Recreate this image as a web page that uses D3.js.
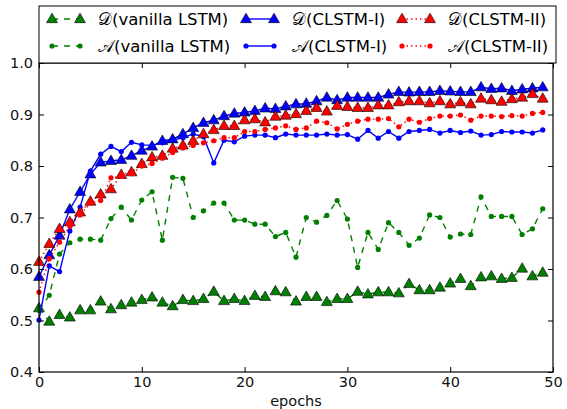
<!DOCTYPE html>
<html>
<head>
<meta charset="utf-8">
<title>LSTM curves</title>
<style>
  body { margin: 0; background: #fff; }
  text { font-family: "DejaVu Sans", sans-serif; }
</style>
</head>
<body>
<script src="https://cdn.jsdelivr.net/npm/d3@7"></script>
<script>
// values, index = epoch
var dVanilla = [0.524,0.498,0.511,0.506,0.520,0.520,0.537,0.522,0.530,0.535,
  0.540,0.545,0.535,0.528,0.540,0.538,0.542,0.556,0.538,0.542,
  0.538,0.548,0.546,0.557,0.555,0.537,0.546,0.546,0.536,0.542,
  0.542,0.556,0.551,0.555,0.555,0.553,0.571,0.559,0.559,0.564,
  0.572,0.581,0.567,0.584,0.586,0.581,0.583,0.601,0.586,0.593];
var aVanilla = [0.520,0.549,0.629,0.651,0.658,0.658,0.656,0.698,0.720,0.695,
  0.734,0.750,0.656,0.778,0.776,0.700,0.713,0.728,0.728,0.695,
  0.695,0.687,0.687,0.663,0.671,0.623,0.700,0.691,0.704,0.733,
  0.697,0.603,0.671,0.638,0.690,0.671,0.646,0.660,0.705,0.700,
  0.662,0.668,0.667,0.740,0.702,0.702,0.702,0.667,0.678,0.717];
var dClstm1 = [0.585,0.627,0.665,0.716,0.750,0.784,0.807,0.810,0.812,0.820,
  0.830,0.838,0.849,0.852,0.862,0.874,0.884,0.889,0.897,0.902,
  0.904,0.907,0.912,0.911,0.916,0.920,0.921,0.926,0.933,0.928,
  0.933,0.933,0.933,0.933,0.939,0.944,0.943,0.944,0.944,0.946,
  0.945,0.944,0.944,0.953,0.950,0.951,0.946,0.949,0.951,0.953];
var aClstm1 = [0.501,0.606,0.595,0.674,0.720,0.790,0.823,0.838,0.828,0.846,
  0.841,0.840,0.845,0.850,0.855,0.862,0.857,0.806,0.850,0.847,
  0.858,0.860,0.860,0.855,0.862,0.860,0.860,0.860,0.862,0.860,
  0.861,0.852,0.869,0.854,0.867,0.854,0.867,0.869,0.871,0.864,
  0.869,0.865,0.868,0.860,0.861,0.867,0.866,0.866,0.864,0.870];
var dClstm2 = [0.614,0.649,0.678,0.691,0.710,0.731,0.745,0.755,0.783,0.788,
  0.804,0.817,0.820,0.834,0.840,0.849,0.862,0.870,0.878,0.878,
  0.889,0.891,0.885,0.896,0.898,0.901,0.907,0.913,0.906,0.917,
  0.915,0.913,0.913,0.918,0.918,0.924,0.926,0.926,0.922,0.926,
  0.920,0.924,0.920,0.931,0.928,0.925,0.930,0.933,0.940,0.931];
var aClstm2 = [0.555,0.620,0.652,0.683,0.705,0.728,0.733,0.777,0.780,0.785,
  0.800,0.805,0.815,0.826,0.835,0.840,0.845,0.849,0.855,0.855,
  0.867,0.867,0.871,0.874,0.878,0.871,0.874,0.887,0.884,0.872,
  0.881,0.887,0.891,0.891,0.892,0.876,0.891,0.885,0.892,0.897,
  0.897,0.899,0.889,0.897,0.897,0.896,0.898,0.897,0.902,0.904];

var xTicks = [0, 10, 20, 30, 40, 50];
var yTicks = [0.4, 0.5, 0.6, 0.7, 0.8, 0.9, 1.0];

var series = [
  {name: "\u{1D49F}(vanilla LSTM)", values: dVanilla, color: "#007f00", dash: "6,6", marker: "tri"},
  {name: "\u{1D49C}(vanilla LSTM)", values: aVanilla, color: "#007f00", dash: "6,6", marker: "dot"},
  {name: "\u{1D49F}(CLSTM-I)", values: dClstm1, color: "#0000ff", dash: null, marker: "tri"},
  {name: "\u{1D49C}(CLSTM-I)", values: aClstm1, color: "#0000ff", dash: null, marker: "dot"},
  {name: "\u{1D49F}(CLSTM-II)", values: dClstm2, color: "#ff0000", dash: "1.5,3", marker: "tri"},
  {name: "\u{1D49C}(CLSTM-II)", values: aClstm2, color: "#ff0000", dash: "1.5,3", marker: "dot"}
];

var w = 567, h = 409;
var pLeft = 39, pRight = 553, pTop = 63, pBottom = 372;

var svg = d3.select("body").append("svg")
    .attr("width", w)
    .attr("height", h);

var x = d3.scaleLinear().domain([0, 50]).range([pLeft, pRight]);
var y = d3.scaleLinear().domain([0.4, 1.0]).range([pBottom, pTop]);

var line = d3.line()
    .x(function(d, i) { return x(i); })
    .y(function(d) { return y(d); });

var tri = d3.symbol().type(d3.symbolTriangle).size(52);

function drawMarker(g, s, px, py) {
  if (s.marker == "tri") {
    g.append("path")
      .attr("d", tri)
      .attr("transform", "translate(" + px + "," + (py + 0.5) + ")")
      .attr("fill", s.color)
      .attr("stroke", "#000")
      .attr("stroke-width", 0.6);
  } else {
    g.append("circle")
      .attr("cx", px).attr("cy", py).attr("r", 2.6)
      .attr("fill", s.color);
  }
}

// curves
series.forEach(function(s) {
  var g = svg.append("g");
  g.append("path")
    .datum(s.values)
    .attr("d", line)
    .attr("fill", "none")
    .attr("stroke", s.color)
    .attr("stroke-width", 1.4)
    .attr("stroke-dasharray", s.dash);
  s.values.forEach(function(v, i) { drawMarker(g, s, x(i), y(v)); });
});

// axes, ticks inward on all sides
function styleAxis(g) {
  g.select(".domain").remove();
  g.selectAll(".tick line").attr("stroke", "#000");
  g.selectAll("text").attr("font-size", 14.5).attr("fill", "#111");
}
svg.append("g").attr("transform", "translate(0," + pBottom + ")")
  .call(d3.axisBottom(x).tickValues(xTicks).tickSizeInner(-5).tickSizeOuter(0).tickPadding(5).tickFormat(d3.format("d")))
  .call(styleAxis);
svg.append("g").attr("transform", "translate(0," + pTop + ")")
  .call(d3.axisTop(x).tickValues(xTicks).tickSizeInner(-5).tickSizeOuter(0).tickFormat(""))
  .call(styleAxis);
svg.append("g").attr("transform", "translate(" + pLeft + ",0)")
  .call(d3.axisLeft(y).tickValues(yTicks).tickSizeInner(-5).tickSizeOuter(0).tickPadding(6).tickFormat(d3.format(".1f")))
  .call(styleAxis);
svg.append("g").attr("transform", "translate(" + pRight + ",0)")
  .call(d3.axisRight(y).tickValues(yTicks).tickSizeInner(-5).tickSizeOuter(0).tickFormat(""))
  .call(styleAxis);

svg.append("rect")
  .attr("x", pLeft).attr("y", pTop)
  .attr("width", pRight - pLeft).attr("height", pBottom - pTop)
  .attr("fill", "none").attr("stroke", "#000").attr("stroke-width", 1.2);

svg.append("text")
  .attr("x", (pLeft + pRight) / 2).attr("y", 406)
  .attr("text-anchor", "middle").attr("font-size", 14.5).attr("fill", "#111")
  .text("epochs");

// legend above the plot, 3 columns x 2 rows
var lg = svg.append("g");
lg.append("rect")
  .attr("x", pLeft).attr("y", 6)
  .attr("width", 556 - pLeft).attr("height", pTop - 6)
  .attr("fill", "#fff").attr("stroke", "#000").attr("stroke-width", 1);
var colX = [52, 246, 402];
var rowY = [19, 46];
series.forEach(function(s, k) {
  var cx = colX[Math.floor(k / 2)], cy = rowY[k % 2];
  var g = lg.append("g");
  g.append("line")
    .attr("x1", cx).attr("x2", cx + 28).attr("y1", cy).attr("y2", cy)
    .attr("stroke", s.color).attr("stroke-width", 1.4)
    .attr("stroke-dasharray", s.dash);
  drawMarker(g, s, cx, cy);
  drawMarker(g, s, cx + 28, cy);
  g.append("text")
    .attr("x", cx + 46).attr("y", cy + 6)
    .attr("font-size", 16.5).attr("fill", "#000")
    .text(s.name);
});
</script>
</body>
</html>
